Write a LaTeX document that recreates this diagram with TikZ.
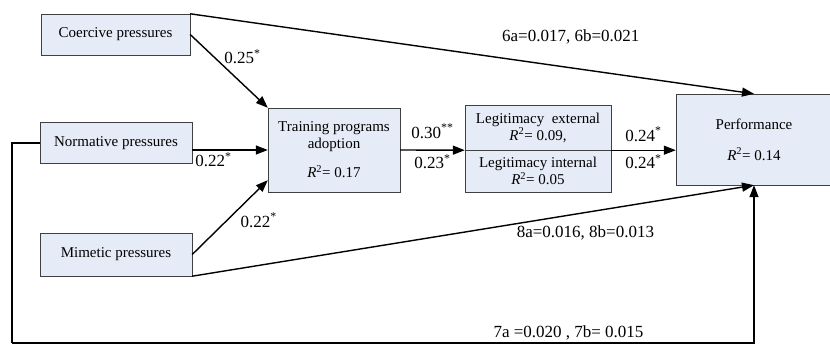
\documentclass[tikz,border=0pt]{standalone}
\usepackage{fontspec}
\setmainfont{Liberation Serif}
\newfontfamily\timesfont{Liberation Serif}
\usetikzlibrary{arrows.meta, positioning, calc}
\definecolor{boxfill}{RGB}{230,236,247}
\tikzset{
    box/.style={rectangle, draw=black!75, fill=boxfill, align=center, font=\timesfont\fontsize{15}{17}\selectfont, inner sep=2pt},
    arrow/.style={-{Triangle[length=12pt, width=9pt]}, line width=1.4pt},
    line/.style={line width=1.4pt},
    coef/.style={font=\timesfont\fontsize{17}{19}\selectfont, inner sep=1pt}
}
\newcommand{\rsq}{\textit{R}\textsuperscript{2}}

\begin{document}
\begin{tikzpicture}[x=1pt, y=-1pt]
    \useasboundingbox (0,0) rectangle (830,345);
    % Pressures (left column)
    \node[box, minimum width=149pt, minimum height=41pt] (coercive) at (115.5,34.5) {Coercive pressures};
    \node[box, minimum width=152pt, minimum height=41pt] (normative) at (116,143) {Normative pressures};
    \node[box, minimum width=152pt, minimum height=43pt] (mimetic) at (116,254.5) {Mimetic pressures};
    % Training (middle)
    \node[box, minimum width=132pt, minimum height=84pt] (training) at (334,150)
    {Training programs \\ adoption \\[12pt] \rsq= 0.17};
    % Legitimacy (two halves)
    \node[box, minimum width=146pt, minimum height=45pt] (legext) at (538,127.5)
    {Legitimacy~ external \\ \rsq= 0.09,};
    \node[box, below=0pt of legext, minimum width=146pt, minimum height=42pt] (legint)
    {Legitimacy internal \\ \rsq= 0.05};
    % Performance (right, cut at the edge)
    \node[box, minimum width=156pt, minimum height=91pt] (perf) at (754,139.5)
    {Performance \\[14pt] \rsq = 0.14};
    \coordinate (loop) at (12,343);

    % paths into training
    \draw[arrow] (coercive.east) -- (training.north west)
        node[coef, pos=0.42, above right] {0.25\textsuperscript{*}};
    \draw[arrow] (normative.east |- training.west) -- (training.west)
        node[coef, pos=0.28, below=1pt] {0.22\textsuperscript{*}};
    \draw[arrow] (mimetic.east) -- ($(training.south west)+(0,-12)$)
        node[coef, pos=0.6, below right=2pt] {0.22\textsuperscript{*}};
    % training -> legitimacy -> performance
    \draw[arrow] (training.east) -- (legint.north west)
        node[coef, midway, above=10pt] {0.30\textsuperscript{**}}
        node[coef, midway, below=3pt] {0.23\textsuperscript{*}};
    \draw[arrow] (legint.north east) -- (perf.west |- legint.north east)
        node[coef, midway, above=7pt] {0.24\textsuperscript{*}}
        node[coef, midway, below=3pt] {0.24\textsuperscript{*}};
    % direct paths
    \draw[arrow] (coercive.north east) -- (perf.north)
        node[coef, pos=0.675, above=22pt] {6a=0.017, 6b=0.021};
    \draw[arrow] (mimetic.south east) -- (perf.south)
        node[coef, pos=0.7, below=12pt] {8a=0.016, 8b=0.013};
    \draw[line] (normative.west) -| (loop);
    \draw[arrow] (loop) -| (perf.south)
        node[coef, pos=0.375, above=1pt] {7a =0.020 , 7b= 0.015};
\end{tikzpicture}
\end{document}
